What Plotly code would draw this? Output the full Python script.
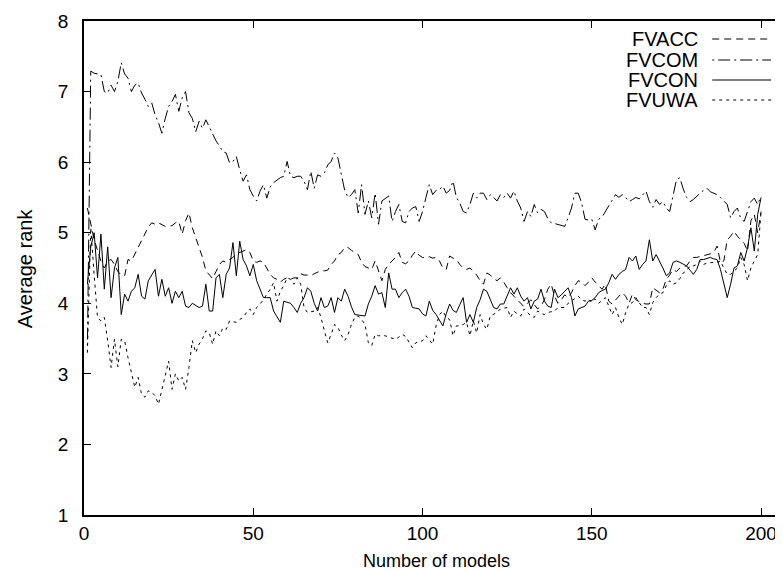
import plotly.graph_objects as go

x_models = list(range(1, 201))

fvacc = [
    5.35, 5.10, 4.90, 4.75, 4.60, 4.50, 4.60, 4.62, 4.55, 4.45,
    4.40, 4.39, 4.62, 4.60, 4.70, 4.80, 4.90, 5.00, 5.08, 5.14,
    5.12, 5.14, 5.12, 5.09, 5.09, 5.10, 5.14, 5.16, 4.98, 5.17,
    5.28, 5.07, 4.93, 4.78, 4.65, 4.46, 4.40, 4.35, 4.45, 4.55,
    4.60, 4.58, 4.62, 4.65, 4.70, 4.72, 4.75, 4.76, 4.72, 4.60,
    4.58, 4.60, 4.58, 4.50, 4.41, 4.36, 4.34, 4.30, 4.34, 4.36,
    4.34, 4.36, 4.36, 4.42, 4.40, 4.40, 4.39, 4.42, 4.44, 4.46,
    4.46, 4.47, 4.55, 4.60, 4.69, 4.72, 4.79, 4.79, 4.75, 4.72,
    4.69, 4.58, 4.52, 4.50, 4.48, 4.60, 4.45, 4.32, 4.48, 4.55,
    4.60, 4.65, 4.72, 4.58, 4.56, 4.60, 4.68, 4.74, 4.68, 4.65,
    4.64, 4.66, 4.64, 4.65, 4.60, 4.50, 4.48, 4.67, 4.64, 4.62,
    4.55, 4.50, 4.48, 4.50, 4.45, 4.40, 4.32, 4.27, 4.43, 4.40,
    4.35, 4.32, 4.36, 4.30, 4.22, 4.15, 4.10, 4.05, 4.00, 3.95,
    4.00, 4.05, 3.98, 3.92, 3.96, 4.05, 4.20, 4.27, 4.10, 4.00,
    4.05, 4.12, 4.08, 4.15, 4.25, 4.32, 4.30, 4.25, 4.30, 4.36,
    4.30, 4.25, 4.20, 4.27, 4.03, 3.99, 4.05, 4.10, 4.15, 4.10,
    4.00, 4.13, 4.05, 4.02, 4.00, 3.99, 3.99, 4.22, 4.18, 4.15,
    4.20, 4.34, 4.40, 4.48, 4.45, 4.50, 4.52, 4.53, 4.60, 4.65,
    4.65, 4.66, 4.67, 4.68, 4.70, 4.72, 4.81, 4.58, 4.60, 4.90,
    4.95, 5.02, 4.95, 4.90, 4.85, 4.74, 5.17, 5.26, 5.00, 5.30,
]

fvcom = [
    3.40, 7.29, 7.26, 7.25, 7.24, 7.00, 6.98, 7.09, 7.00, 7.14,
    7.41, 7.25, 7.19, 7.00, 7.09, 7.12, 6.98, 6.89, 6.79, 6.84,
    6.67, 6.56, 6.41, 6.62, 6.79, 6.86, 6.96, 6.72, 6.91, 7.00,
    6.70, 6.62, 6.43, 6.58, 6.48, 6.60, 6.50, 6.40, 6.30, 6.23,
    6.15, 6.13, 5.99, 6.01, 6.08, 5.89, 5.73, 5.82, 5.61, 5.52,
    5.45, 5.59, 5.68, 5.49, 5.65, 5.71, 5.75, 5.78, 5.80, 6.01,
    5.80, 5.78, 5.80, 5.80, 5.73, 5.61, 5.87, 5.63, 5.82, 5.80,
    5.85, 5.96, 6.01, 6.13, 6.06, 5.82, 5.60, 5.50, 5.54, 5.61,
    5.28, 5.68, 5.26, 5.45, 5.21, 5.56, 5.12, 5.45, 5.49, 5.52,
    5.16, 5.30, 5.40, 5.16, 5.14, 5.30, 5.35, 5.37, 5.16, 5.30,
    5.50, 5.68, 5.54, 5.60, 5.61, 5.66, 5.56, 5.60, 5.73, 5.50,
    5.42, 5.30, 5.28, 5.40, 5.56, 5.49, 5.56, 5.56, 5.47, 5.54,
    5.50, 5.45, 5.54, 5.50, 5.56, 5.49, 5.59, 5.45, 5.35, 5.16,
    5.30, 5.23, 5.40, 5.28, 5.33, 5.30, 5.20, 5.14, 5.13, 5.12,
    5.10, 5.09, 5.21, 5.35, 5.56, 5.56, 5.42, 5.19, 5.18, 5.19,
    5.04, 5.19, 5.22, 5.30, 5.38, 5.44, 5.54, 5.50, 5.54, 5.50,
    5.44, 5.47, 5.50, 5.48, 5.54, 5.59, 5.44, 5.36, 5.47, 5.40,
    5.44, 5.35, 5.30, 5.55, 5.75, 5.78, 5.62, 5.50, 5.44, 5.47,
    5.52, 5.56, 5.60, 5.63, 5.58, 5.56, 5.54, 5.50, 5.45, 5.40,
    5.21, 5.30, 5.35, 5.20, 5.16, 5.30, 5.44, 5.49, 5.40, 5.52,
]

fvcon = [
    4.27, 4.80, 5.00, 4.36, 4.98, 4.20, 4.80, 4.08, 4.50, 4.65,
    3.84, 4.13, 4.03, 4.17, 4.22, 4.41, 4.10, 4.06, 4.32, 4.40,
    4.48, 4.10, 4.34, 4.10, 4.22, 4.00, 4.17, 4.08, 4.17, 3.96,
    3.94, 4.00, 3.97, 3.94, 3.96, 4.27, 3.89, 3.89, 4.36, 4.41,
    4.08, 4.41, 4.50, 4.86, 4.39, 4.88, 4.62, 4.53, 4.39, 4.55,
    4.32, 4.20, 4.08, 4.08, 4.08, 3.89, 3.80, 3.73, 4.03, 4.02,
    4.00, 3.94, 3.87, 4.00, 4.08, 4.22, 4.17, 4.00, 3.89, 4.08,
    3.94, 3.96, 4.08, 3.87, 4.08, 4.03, 4.20, 4.10, 3.95, 3.84,
    3.83, 3.82, 3.82, 3.99, 4.10, 4.25, 4.13, 4.15, 3.94, 4.43,
    4.20, 4.20, 4.08, 4.15, 4.20, 4.10, 3.94, 3.93, 3.92, 3.85,
    3.82, 4.03, 3.90, 3.84, 3.75, 3.68, 3.85, 3.99, 3.90, 3.87,
    3.98, 4.08, 3.73, 3.84, 3.73, 3.94, 4.05, 4.20, 4.17, 4.05,
    3.94, 3.92, 3.99, 3.99, 4.10, 4.22, 4.13, 4.22, 4.10, 4.03,
    4.08, 3.92, 4.03, 4.06, 4.20, 4.03, 3.96, 3.94, 4.20, 4.08,
    4.12, 4.17, 4.22, 4.08, 3.82, 3.92, 3.94, 3.96, 4.03, 4.04,
    4.08, 4.15, 4.18, 4.20, 4.29, 4.41, 4.34, 4.41, 4.45, 4.48,
    4.65, 4.60, 4.67, 4.48, 4.55, 4.60, 4.90, 4.60, 4.69, 4.60,
    4.50, 4.39, 4.43, 4.58, 4.60, 4.58, 4.55, 4.53, 4.47, 4.41,
    4.48, 4.62, 4.62, 4.63, 4.65, 4.63, 4.62, 4.48, 4.27, 4.08,
    4.27, 4.50, 4.53, 4.72, 4.60, 4.79, 5.07, 4.74, 5.26, 5.50,
]

fvuwa = [
    3.30, 5.07, 4.40, 3.80, 3.75, 3.80, 3.47, 3.09, 3.49, 3.10,
    3.49, 3.47, 3.23, 3.00, 2.81, 2.95, 2.71, 2.67, 2.76, 2.74,
    2.69, 2.57, 2.76, 2.95, 3.18, 2.78, 3.00, 2.90, 2.95, 2.78,
    3.09, 3.47, 3.30, 3.42, 3.50, 3.61, 3.58, 3.42, 3.61, 3.54,
    3.65, 3.63, 3.75, 3.74, 3.73, 3.77, 3.80, 3.87, 3.92, 3.84,
    3.94, 3.99, 4.05, 4.13, 4.20, 4.29, 4.03, 4.17, 4.25, 4.36,
    4.34, 4.27, 4.36, 4.27, 3.94, 3.87, 3.88, 3.89, 3.94, 3.80,
    3.61, 3.44, 3.56, 3.70, 3.66, 3.55, 3.47, 3.56, 3.70, 3.80,
    3.82, 3.77, 3.70, 3.44, 3.40, 3.56, 3.54, 3.54, 3.54, 3.52,
    3.51, 3.49, 3.52, 3.56, 3.53, 3.45, 3.37, 3.44, 3.45, 3.47,
    3.54, 3.48, 3.42, 3.68, 3.84, 3.89, 3.80, 3.77, 3.54, 3.68,
    3.68, 3.70, 3.73, 3.54, 3.75, 3.58, 3.84, 3.70, 3.63, 3.82,
    3.85, 3.87, 3.92, 3.93, 3.94, 3.80, 3.89, 3.85, 3.82, 3.92,
    3.87, 3.82, 3.80, 3.89, 3.86, 3.84, 3.87, 3.88, 3.89, 3.94,
    3.94, 3.94, 4.00, 4.03, 4.06, 4.10, 4.05, 4.03, 4.06, 4.01,
    4.06, 4.00, 4.04, 4.08, 3.96, 3.84, 3.94, 3.80, 3.70, 3.87,
    3.99, 4.01, 4.08, 4.00, 3.94, 3.94, 3.84, 4.01, 4.08, 4.13,
    4.15, 4.25, 4.32, 4.27, 4.29, 4.35, 4.43, 4.46, 4.53, 4.53,
    4.55, 4.60, 4.55, 4.57, 4.58, 4.58, 4.58, 4.60, 4.50, 4.41,
    4.41, 4.45, 4.50, 4.65, 4.55, 4.32, 4.50, 4.60, 4.69, 5.30,
]

series_names = ["FVACC", "FVCOM", "FVCON", "FVUWA"]
series_values = [fvacc, fvcom, fvcon, fvuwa]
series_dash = ["7px,5px", "2px,4px,12px,4px", "solid", "3px,4px"]

x_ticks = [0, 50, 100, 150, 200]
y_ticks = [1, 2, 3, 4, 5, 6, 7, 8]

W, H = 783, 571
L, R, T, B = 76, 0, 13, 64
PW, PH = W - L - R, H - T - B


def px(xp):
    return (xp - L) / PW


def py(yp):
    return (H - B - yp) / PH


fig = go.Figure()
for name, vals, dash in zip(series_names, series_values, series_dash):
    fig.add_trace(go.Scatter(x=x_models, y=vals, mode="lines", name=name,
                             line=dict(color="black", width=1, dash=dash),
                             showlegend=False))

font_family = "Liberation Sans, Arial, Helvetica, sans-serif"

# legend drawn gnuplot-style: text right-aligned, sample line to the right
leg_rows = [31, 52, 72, 92]
for name, dash, yr in zip(series_names, series_dash, leg_rows):
    fig.add_annotation(x=px(694), y=py(yr), xref="paper", yref="paper",
                       text=name, showarrow=False, xanchor="right",
                       yanchor="middle",
                       font=dict(family=font_family, size=20, color="black"))
    fig.add_shape(type="line", xref="paper", yref="paper",
                  x0=px(706), x1=px(765), y0=py(yr), y1=py(yr),
                  line=dict(color="black", width=1, dash=dash))

fig.add_annotation(x=px(430), y=py(553), xref="paper", yref="paper",
                   text="Number of models", showarrow=False,
                   xanchor="center", yanchor="middle", borderpad=0,
                   font=dict(family=font_family, size=18, color="black"))
fig.add_annotation(x=px(17), y=py(260), xref="paper", yref="paper",
                   text="Average rank", showarrow=False, textangle=-90,
                   xanchor="center", yanchor="middle",
                   font=dict(family=font_family, size=20, color="black"))

axis_common = dict(showgrid=False, zeroline=False, showline=True,
                   linecolor="black", linewidth=1.5, mirror="ticks",
                   ticks="inside", ticklen=7, tickwidth=1, tickcolor="black",
                   tickfont=dict(family=font_family, size=19, color="black"))

fig.update_xaxes(range=[0, (W - L) / 3.395], tickvals=x_ticks,
                 ticklabelstandoff=0, **axis_common)
fig.update_yaxes(range=[1, 8], tickvals=y_ticks, ticklabelstandoff=10,
                 **axis_common)

fig.update_layout(width=W, height=H, margin=dict(l=L, r=R, t=T, b=B),
                  paper_bgcolor="white", plot_bgcolor="white")

fig.write_html("out.html")
